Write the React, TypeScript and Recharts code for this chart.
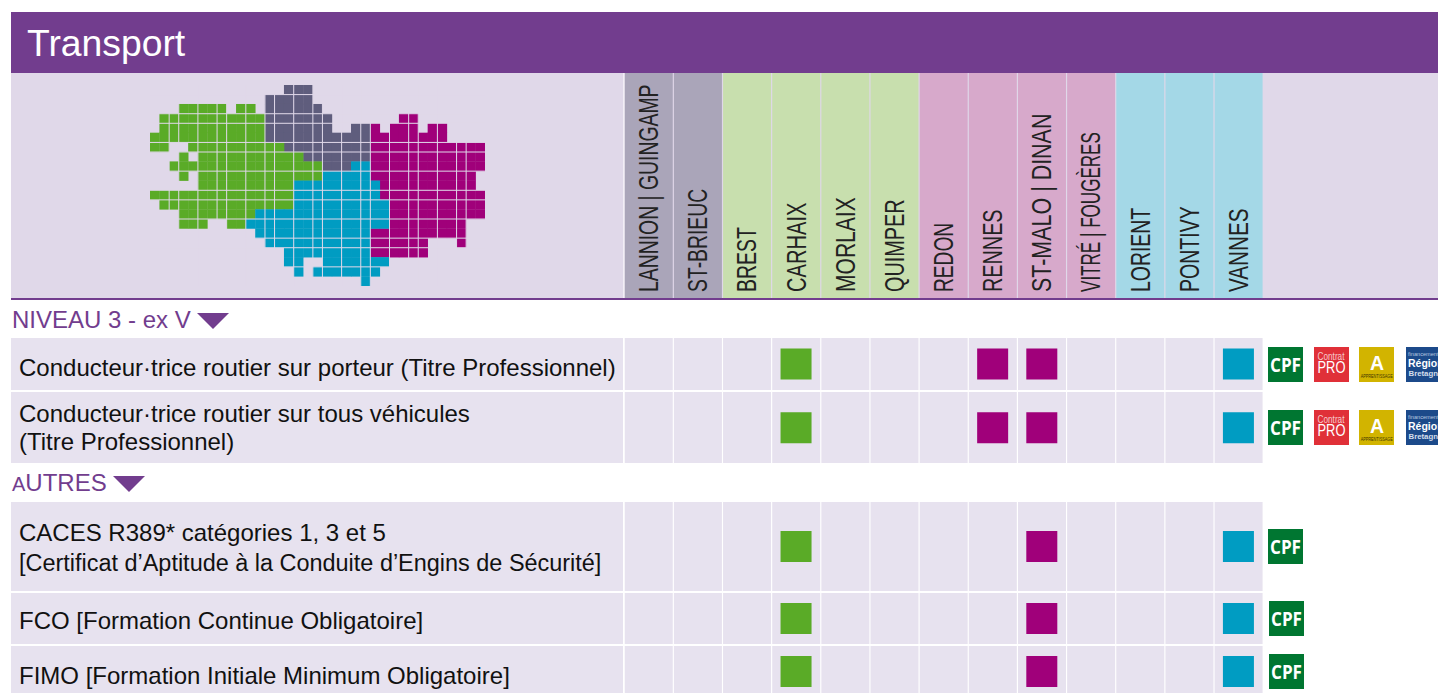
import { Bar, Cell, ComposedChart, Scatter, ScatterChart, XAxis, YAxis } from 'recharts';

const towns = ['LANNION | GUINGAMP', 'ST-BRIEUC', 'BREST', 'CARHAIX', 'MORLAIX', 'QUIMPER', 'REDON', 'RENNES', 'ST-MALO | DINAN', 'VITRÉ | FOUGÈRES', 'LORIENT', 'PONTIVY', 'VANNES'];
const townRegions = ['nord', 'nord', 'ouest', 'ouest', 'ouest', 'ouest', 'est', 'est', 'est', 'est', 'sud', 'sud', 'sud'];

const fourTowns = ['CARHAIX', 'RENNES', 'ST-MALO | DINAN', 'VANNES'];
const threeTowns = ['CARHAIX', 'ST-MALO | DINAN', 'VANNES'];

// [row, first column, last column] on the map grid
const greenSpans = [[2, 3, 7], [2, 9, 10], [3, 1, 11], [4, 1, 11], [5, 0, 11], [6, 0, 1], [6, 4, 13], [7, 3, 3], [7, 5, 15], [8, 2, 17], [9, 3, 3], [9, 5, 17], [10, 5, 14], [11, 0, 14], [12, 1, 14], [13, 3, 10], [14, 3, 5], [14, 8, 9]];
const graySpans = [[0, 14, 16], [1, 12, 16], [2, 12, 17], [3, 12, 18], [4, 12, 18], [4, 21, 22], [5, 12, 22], [6, 14, 22], [7, 16, 22], [8, 18, 20]];
const blueSpans = [[8, 21, 22], [9, 18, 22], [10, 15, 23], [11, 15, 23], [12, 15, 24], [13, 11, 24], [14, 10, 24], [15, 11, 22], [16, 12, 22], [17, 14, 22], [18, 14, 15], [18, 18, 24], [19, 15, 15], [19, 17, 23], [20, 22, 22]];
const magentaSpans = [[3, 26, 27], [4, 23, 23], [4, 25, 27], [4, 29, 30], [5, 23, 30], [6, 23, 34], [7, 23, 34], [8, 23, 34], [9, 23, 33], [10, 24, 33], [11, 24, 34], [12, 25, 34], [13, 25, 34], [14, 25, 32], [15, 23, 32], [16, 23, 28], [16, 32, 32], [17, 23, 28]];
const mapColumnLines = [2, 3, 5, 7, 8, 10, 12, 13, 15, 17, 18, 20, 22, 23, 25, 27, 28, 30, 32, 33];
const mapRowLines = [1, 3, 4, 6, 7, 9, 11, 12, 14, 16, 17, 19];

const PURPLE = '#723d8e';
const PANEL = '#e0d8e9';
const ROW = '#e7e2ef';
const FONT = '"Liberation Sans", Arial, sans-serif';
const columnFill: Record<string, string> = { nord: '#aaa5b9', ouest: '#c8dfae', est: '#d7a9cb', sud: '#a4d8e7' };
const markFill: Record<string, string> = { nord: '#5f5d7d', ouest: '#5aab27', est: '#a0007a', sud: '#009cc2' };

const COLS_LEFT = 624;
const COLS_WIDTH = 639;
const MAP_WIDTH = 335.3;
const MAP_HEIGHT = 201;

// the reference label font is condensed and no such font is installed, so squeeze each label
const townLabelScale: Record<string, number> = {
  'LANNION | GUINGAMP': 0.718, 'ST-BRIEUC': 0.717, BREST: 0.72, CARHAIX: 0.745, MORLAIX: 0.78, QUIMPER: 0.736, REDON: 0.71,
  RENNES: 0.734, 'ST-MALO | DINAN': 0.795, 'VITRÉ | FOUGÈRES': 0.632, LORIENT: 0.72, PONTIVY: 0.724, VANNES: 0.767,
};

const toCells = (spans: number[][]) =>
  spans.flatMap(([row, from, to]) => {
    const out = [];
    for (let col = from; col <= to; col++) out.push({ x: col + 0.5, y: row + 0.5 });
    return out;
  });

const MapCell = (props: any) => (
  <rect x={props.cx - 4.95} y={props.cy - 4.95} width={9.9} height={9.9} fill={props.fill} />
);
const ColumnLine = (props: any) => <rect x={props.cx - 0.5} y={0} width={1} height={MAP_HEIGHT} fill={PANEL} />;
const RowLine = (props: any) => <rect x={0} y={props.cy - 0.5} width={MAP_WIDTH} height={1} fill={PANEL} />;

const BreizhMap = () => (
  <div style={{ position: 'absolute', left: 150, top: 85 }}>
    <ScatterChart width={MAP_WIDTH} height={MAP_HEIGHT} margin={{ top: 0, right: 0, bottom: 0, left: 0 }}>
      <XAxis type="number" dataKey="x" domain={[0, 35]} hide />
      <YAxis type="number" dataKey="y" domain={[0, 21]} reversed hide />
      <Scatter data={toCells(graySpans)} fill={markFill.nord} shape={MapCell} isAnimationActive={false} />
      <Scatter data={toCells(greenSpans)} fill={markFill.ouest} shape={MapCell} isAnimationActive={false} />
      <Scatter data={toCells(magentaSpans)} fill={markFill.est} shape={MapCell} isAnimationActive={false} />
      <Scatter data={toCells(blueSpans)} fill={markFill.sud} shape={MapCell} isAnimationActive={false} />
      <Scatter data={mapColumnLines.map(x => ({ x, y: 10 }))} shape={ColumnLine} isAnimationActive={false} />
      <Scatter data={mapRowLines.map(y => ({ x: 17, y }))} shape={RowLine} isAnimationActive={false} />
    </ScatterChart>
  </div>
);

const TownTick = ({ x, y, payload }: any) => (
  <text
    transform={`translate(${x + 9.5}, ${y + 2}) rotate(-90) scale(${townLabelScale[payload.value]}, 1)`}
    fontFamily={FONT}
    fontSize={27}
    fill="#222"
  >
    {payload.value}
  </text>
);

const headerData = towns.map(town => ({ town, cell: 1 }));

const TownHeader = () => (
  <div style={{ position: 'absolute', left: COLS_LEFT, top: 73 }}>
    <ComposedChart width={COLS_WIDTH} height={225} data={headerData} margin={{ top: 0, right: 0, bottom: 0, left: 0 }} barCategoryGap={0.75}>
      <XAxis dataKey="town" mirror interval={0} axisLine={false} tickLine={false} tick={TownTick} />
      <YAxis type="number" domain={[0, 1]} hide />
      <Bar dataKey="cell" isAnimationActive={false}>
        {towns.map((t, i) => <Cell key={t} fill={columnFill[townRegions[i]]} />)}
      </Bar>
    </ComposedChart>
  </div>
);

const Mark = (props: any) => {
  if (props.cx == null || props.cy == null || props.payload?.mark == null) return null;
  const region = townRegions[towns.indexOf(props.payload.town)];
  return <rect x={props.cx - 15.5} y={props.cy - 15.5} width={31} height={31} fill={markFill[region]} />;
};

const RowCells = ({ top, height, marks }: { top: number; height: number; marks: string[] }) => {
  const data = towns.map(town => ({ town, cell: 1, mark: marks.includes(town) ? 0.5 : null }));
  return (
    <div style={{ position: 'absolute', left: COLS_LEFT, top }}>
      <ComposedChart width={COLS_WIDTH} height={height} data={data} margin={{ top: 0, right: 0, bottom: 0, left: 0 }} barCategoryGap={0.75}>
        <XAxis dataKey="town" hide />
        <YAxis type="number" domain={[0, 1]} hide />
        <Bar dataKey="cell" fill={ROW} isAnimationActive={false} />
        <Scatter dataKey="mark" shape={Mark} isAnimationActive={false} />
      </ComposedChart>
    </div>
  );
};

const BadgeBox = ({ left, top, fill, width = 35, children }: any) => (
  <svg style={{ position: 'absolute', left, top }} width={width} height={35} fontFamily={FONT}>
    <rect width={width} height={35} fill={fill} />
    {children}
  </svg>
);

const Cpf = ({ left, top }: any) => (
  <BadgeBox left={left} top={top} fill="#007631">
    <text x={2} y={24.5} fontFamily='"Open Sans", sans-serif' fontWeight={700} fontSize={19} textLength={31} lengthAdjust="spacingAndGlyphs" fill="#fff">CPF</text>
  </BadgeBox>
);

const Pro = ({ left, top }: any) => (
  <BadgeBox left={left} top={top} fill="#e03038">
    <text x={3.5} y={12.5} fontSize={10.2} textLength={27} lengthAdjust="spacingAndGlyphs" fill="#f6c9cb">Contrat</text>
    <text x={3.5} y={26} fontSize={16} textLength={28} lengthAdjust="spacingAndGlyphs" fill="#fff">PRO</text>
  </BadgeBox>
);

const Apprentissage = ({ left, top }: any) => (
  <BadgeBox left={left} top={top} fill="#d2b400">
    <text x={18} y={22.5} textAnchor="middle" fontWeight={700} fontSize={19.5} fill="#fff">A</text>
    <text x={1.7} y={31} fontSize={4.6} textLength={32} lengthAdjust="spacingAndGlyphs" fill="#3d3500">APPRENTISSAGE</text>
  </BadgeBox>
);

const Region = ({ left, top }: any) => (
  <BadgeBox left={left} top={top} fill="#1c4a8a" width={32}>
    <text x={2} y={8.7} fontSize={5.6} fill="#b8c8e0">financement</text>
    <text x={2} y={19.7} fontWeight={700} fontSize={10.5} fill="#fff">Région</text>
    <text x={2.5} y={28.7} fontWeight={700} fontSize={7.8} fill="#d5deeb">Bretagne</text>
  </BadgeBox>
);

const RowLabel = ({ top, height, lines, shift = 0, lineHeight = 28, lastSize }: { top: number; height: number; lines: string[]; shift?: number; lineHeight?: number; lastSize?: number }) => (
  <div style={{ position: 'absolute', left: 11, top, width: 612, height, background: ROW, display: 'flex', flexDirection: 'column', justifyContent: 'center', paddingLeft: 8, boxSizing: 'border-box', fontFamily: FONT, fontSize: 24, lineHeight: `${lineHeight}px`, color: '#111', whiteSpace: 'nowrap' }}>
    {lines.map((l, i) => (
      <div key={l} style={{ position: 'relative', top: shift, fontSize: lastSize && i === lines.length - 1 ? lastSize : undefined }}>{l}</div>
    ))}
  </div>
);

const Section = ({ top, width, children }: any) => (
  <div style={{ position: 'absolute', left: 12, top, fontFamily: FONT, fontSize: 24, lineHeight: '28px', color: PURPLE, whiteSpace: 'nowrap' }}>
    {children}
    <svg style={{ position: 'absolute', left: width, top: 7 }} width={32} height={16}>
      <polygon points="0,0 32,0 16,16" fill={PURPLE} />
    </svg>
  </div>
);

export default function App() {
  return (
    <div style={{ position: 'absolute', left: 0, top: 0, width: 1438, height: 693, overflow: 'hidden', background: '#fff' }}>
      <div style={{ position: 'absolute', left: 11, top: 12, right: 0, height: 61, background: PURPLE, color: '#fff', fontFamily: FONT, fontSize: 37.3, lineHeight: '63px', paddingLeft: 16 }}>
        Transport
      </div>
      <div style={{ position: 'absolute', left: 11, top: 73, right: 0, height: 225, background: PANEL }} />
      <BreizhMap />
      <div style={{ position: 'absolute', left: 623, top: 73, width: 1.7, height: 225, background: '#f2eef6' }} />
      <TownHeader />
      <div style={{ position: 'absolute', left: 11, top: 298, right: 0, height: 2, background: PURPLE }} />

      <Section top={305.5} width={185}>NIVEAU 3 - ex V</Section>
      <RowLabel top={338} height={52} lines={['Conducteur·trice routier sur porteur (Titre Professionnel)']} shift={3.5} />
      <RowCells top={338} height={52} marks={fourTowns} />
      <Cpf left={1268} top={347} /><Pro left={1314} top={347} /><Apprentissage left={1359} top={347} /><Region left={1406} top={347} />
      <RowLabel top={391.5} height={71.5} lines={['Conducteur·trice routier sur tous véhicules', '(Titre Professionnel)']} shift={1} />
      <RowCells top={391.5} height={71.5} marks={fourTowns} />
      <Cpf left={1268} top={410} /><Pro left={1314} top={410} /><Apprentissage left={1359} top={410} /><Region left={1406} top={410} />

      <Section top={469} width={101}><span style={{ fontSize: 20 }}>A</span>UTRES</Section>
      <RowLabel top={502} height={89} lines={['CACES R389* catégories 1, 3 et 5', '[Certificat d’Aptitude à la Conduite d’Engins de Sécurité]']} shift={1} lineHeight={31} lastSize={23.45} />
      <RowCells top={502} height={89} marks={threeTowns} />
      <Cpf left={1268} top={529} />
      <RowLabel top={593} height={51} lines={['FCO [Formation Continue Obligatoire]']} shift={2} />
      <RowCells top={593} height={51} marks={threeTowns} />
      <Cpf left={1269} top={601} />
      <RowLabel top={646} height={51} lines={['FIMO [Formation Initiale Minimum Obligatoire]']} shift={4.5} />
      <RowCells top={646} height={51} marks={threeTowns} />
      <Cpf left={1269} top={654} />
    </div>
  );
}
